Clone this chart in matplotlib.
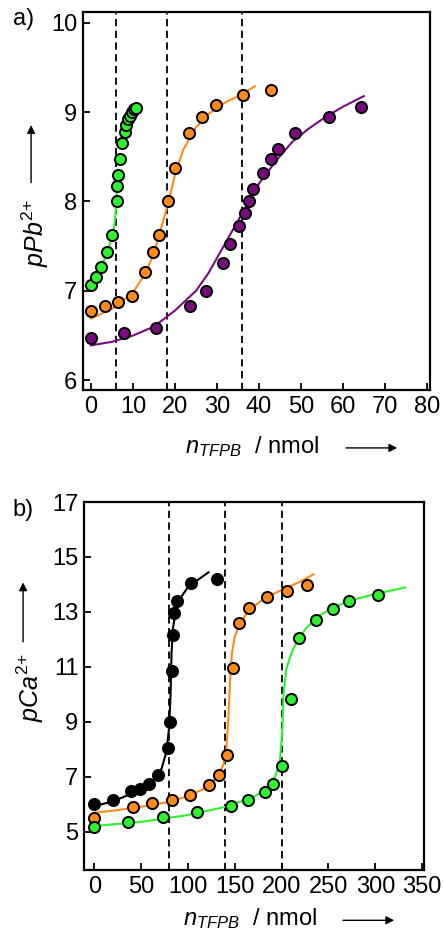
import matplotlib
matplotlib.use('Agg')
import matplotlib.pyplot as plt
import numpy as np

plt.rcParams['font.family'] = ['Liberation Sans', 'DejaVu Sans']
plt.rcParams['mathtext.fontset'] = 'custom'
plt.rcParams['mathtext.rm'] = 'Liberation Sans'
plt.rcParams['mathtext.it'] = 'Liberation Sans:italic'

# ---- panel a: pPb2+ titration ----
a_green_x = [0, 1.3, 2.5, 3.8, 5.0, 6.2, 6.3, 6.4, 7.0, 7.5, 8.0, 8.4, 8.8, 9.2, 9.7, 10.2, 10.6]
a_green_y = [7.07, 7.16, 7.27, 7.43, 7.62, 8.01, 8.17, 8.30, 8.48, 8.65, 8.78, 8.86, 8.92, 8.96, 9.00, 9.03, 9.05]
a_green_fit_x = [0, 1, 2, 3, 4, 5, 5.6, 6.0, 6.3]
a_green_fit_y = [7.0, 7.1, 7.2, 7.33, 7.45, 7.6, 7.75, 7.95, 8.2]

a_orange_x = [0, 3.25, 6.35, 9.76, 12.8, 14.8, 16.2, 18.3, 20.0, 23.4, 26.5, 29.8, 36.3, 42.9]
a_orange_y = [6.77, 6.83, 6.87, 6.94, 7.21, 7.43, 7.63, 8.01, 8.38, 8.77, 8.95, 9.08, 9.19, 9.25]
a_orange_fit_x = [0, 5, 10, 13, 15, 17, 18.5, 20, 22, 25, 28, 32, 36, 39]
a_orange_fit_y = [6.69, 6.80, 6.98, 7.2, 7.42, 7.75, 8.0, 8.3, 8.58, 8.83, 8.98, 9.11, 9.2, 9.29]

a_purple_x = [0, 7.9, 15.6, 23.5, 27.5, 31.4, 33.2, 35.3, 36.6, 37.6, 38.7, 40.9, 42.9, 44.5, 48.6, 56.6, 64.3]
a_purple_y = [6.47, 6.53, 6.58, 6.83, 7.00, 7.31, 7.52, 7.73, 7.87, 8.01, 8.14, 8.32, 8.47, 8.59, 8.77, 8.94, 9.06]
a_purple_fit_x = [0, 5, 10, 15, 20, 25, 28, 31, 34, 37, 40, 44, 48, 52, 56, 60, 65]
a_purple_fit_y = [6.39, 6.43, 6.5, 6.6, 6.78, 7.0, 7.2, 7.45, 7.7, 7.95, 8.2, 8.45, 8.67, 8.82, 8.95, 9.06, 9.18]

a_vlines = [6, 18, 36]

# ---- panel b: pCa2+ titration ----
b_black_x = [0, 19.6, 39.2, 48.8, 58.4, 67.7, 78.3, 80.8, 82.6, 83.7, 85.5, 88.0, 102.9, 130.7]
b_black_y = [6.0, 6.16, 6.46, 6.55, 6.74, 7.07, 8.05, 9.0, 10.84, 12.16, 12.96, 13.41, 14.04, 14.20]
b_black_fit_x = [0, 20, 40, 55, 65, 72, 77, 80, 81.5, 82.5, 84, 87, 92, 100, 110, 122]
b_black_fit_y = [5.92, 6.1, 6.38, 6.65, 6.95, 7.3, 7.9, 8.8, 10.0, 11.5, 12.4, 13.0, 13.5, 13.9, 14.15, 14.44]

b_orange_x = [0, 41, 61.3, 82.6, 102.2, 122.9, 133.5, 141.4, 148.5, 154.2, 164.9, 184.8, 206.2, 227.6]
b_orange_y = [5.51, 5.88, 6.04, 6.16, 6.34, 6.71, 7.07, 7.78, 10.97, 12.58, 13.14, 13.55, 13.75, 13.97]
b_orange_fit_x = [0, 25, 50, 75, 100, 120, 132, 138, 141, 143, 145, 147, 150, 156, 165, 180, 200, 220, 234]
b_orange_fit_y = [5.68, 5.78, 5.9, 6.05, 6.28, 6.6, 7.0, 7.45, 8.0, 9.0, 10.5, 11.5, 12.1, 12.6, 13.05, 13.45, 13.8, 14.1, 14.37]

b_green_x = [0, 36.3, 73, 110, 145.7, 163.8, 182.3, 191.2, 200.9, 209.8, 219, 236.8, 254.6, 272.4, 303.4]
b_green_y = [5.15, 5.34, 5.52, 5.71, 5.94, 6.16, 6.43, 6.74, 7.38, 9.81, 12.03, 12.70, 13.10, 13.39, 13.61]
b_green_fit_x = [0, 50, 100, 140, 170, 185, 193, 198, 201, 202, 205, 210, 216, 225, 237, 255, 272, 300, 332]
b_green_fit_y = [5.2, 5.35, 5.6, 5.9, 6.25, 6.6, 7.0, 7.5, 8.8, 10.0, 10.9, 11.45, 11.9, 12.35, 12.8, 13.15, 13.4, 13.65, 13.89]

b_vlines = [80, 140, 200]

GREEN = '#2ef22e'
ORANGE = '#ff8a1c'
PURPLE = '#7a0a80'

fig = plt.figure(figsize=(4.44, 9.41), dpi=100)
ax1 = fig.add_axes([0.187, 0.5855, 0.781, 0.4017])
ax2 = fig.add_axes([0.189, 0.0755, 0.766, 0.391])

def series(ax, x, y, fx, fy, color, z):
    ax.plot(fx, fy, color=color, lw=1.5, zorder=z)
    ax.plot(x, y, 'o', ms=8, mfc=color, mec='black', mew=1.4, zorder=z + 1)

series(ax1, a_green_x, a_green_y, a_green_fit_x, a_green_fit_y, GREEN, 3)
series(ax1, a_orange_x, a_orange_y, a_orange_fit_x, a_orange_fit_y, ORANGE, 3)
series(ax1, a_purple_x, a_purple_y, a_purple_fit_x, a_purple_fit_y, PURPLE, 3)
for v in a_vlines:
    ax1.axvline(v, color='black', ls=(0, (4, 2.5)), lw=1.3, zorder=2)

series(ax2, b_black_x, b_black_y, b_black_fit_x, b_black_fit_y, 'black', 3)
series(ax2, b_orange_x, b_orange_y, b_orange_fit_x, b_orange_fit_y, ORANGE, 3)
series(ax2, b_green_x, b_green_y, b_green_fit_x, b_green_fit_y, GREEN, 3)
for v in b_vlines:
    ax2.axvline(v, color='black', ls=(0, (4, 2.5)), lw=1.3, zorder=2)

ax1.set_xlim(-1.9, 80.7)
ax1.set_ylim(5.89, 10.12)
ax1.set_xticks(np.arange(0, 81, 10))
ax1.set_yticks([6, 7, 8, 9, 10])

ax2.set_xlim(-11, 352)
ax2.set_ylim(3.6, 17.0)
ax2.set_xticks(np.arange(0, 351, 50))
ax2.set_yticks([5, 7, 9, 11, 13, 15, 17])

for ax in (ax1, ax2):
    for s in ax.spines.values():
        s.set_linewidth(1.6)
    ax.tick_params(direction='in', length=5, width=1.3, labelsize=17, pad=4)

# axis labels with arrows
fig.text(0.079, 0.752, r'$pPb^{2{+}}$', rotation=90, ha='center', va='center', fontsize=18)
fig.text(0.068, 0.269, r'$pCa^{2{+}}$', rotation=90, ha='center', va='center', fontsize=18)
fig.text(0.568, 0.525, r'$n_{TFPB}$  / nmol', ha='center', va='center', fontsize=17)
fig.text(0.562, 0.024, r'$n_{TFPB}$  / nmol', ha='center', va='center', fontsize=17)

arr = dict(arrowstyle='-|>', lw=1.0, color='black', mutation_scale=12)
fig.add_artist(matplotlib.patches.FancyArrowPatch((0.070, 0.803), (0.070, 0.870),
               transform=fig.transFigure, **arr))
fig.add_artist(matplotlib.patches.FancyArrowPatch((0.052, 0.315), (0.052, 0.384),
               transform=fig.transFigure, **arr))
fig.add_artist(matplotlib.patches.FancyArrowPatch((0.773, 0.524), (0.901, 0.524),
               transform=fig.transFigure, **arr))
fig.add_artist(matplotlib.patches.FancyArrowPatch((0.766, 0.022), (0.894, 0.022),
               transform=fig.transFigure, **arr))

fig.text(0.052, 0.980, 'a)', ha='center', va='center', fontsize=17)
fig.text(0.052, 0.458, 'b)', ha='center', va='center', fontsize=17)

fig.savefig('out.png', dpi=100)
